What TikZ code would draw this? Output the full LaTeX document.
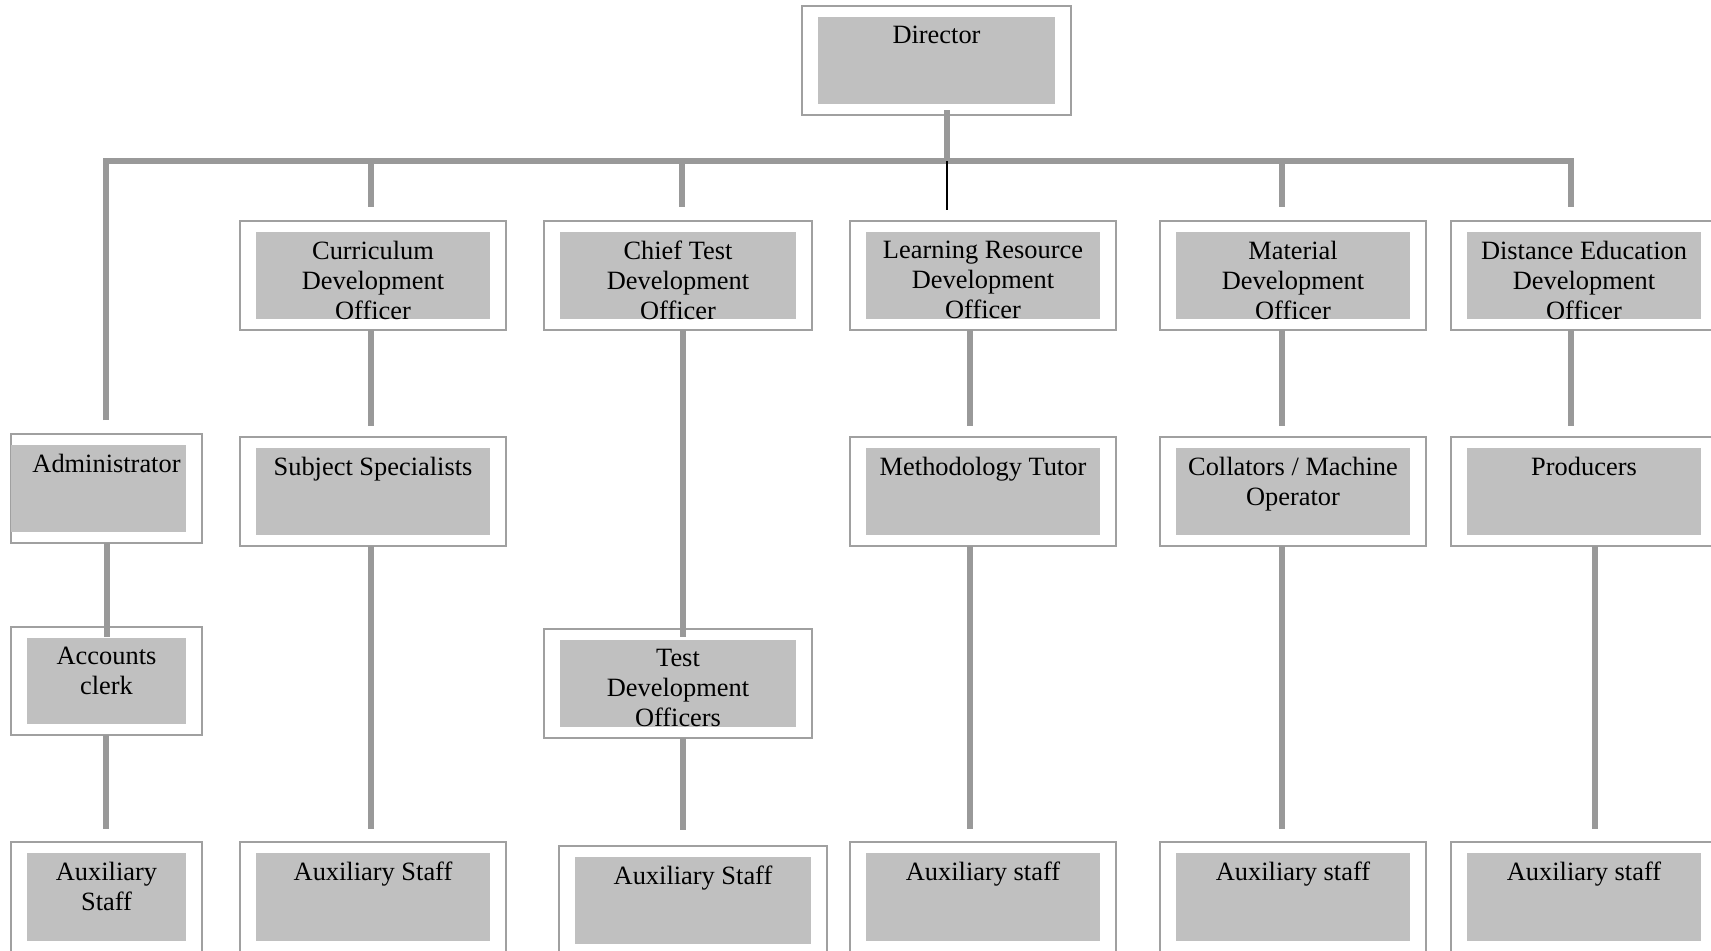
\documentclass[tikz,border=0pt]{standalone}
\usepackage{fontspec}
\setmainfont{Liberation Serif}
\usetikzlibrary{calc}
\definecolor{lineg}{HTML}{999999}
\definecolor{boxg}{HTML}{A0A0A0}
\definecolor{fillg}{HTML}{C0C0C0}
\tikzset{
  outerbox/.style={draw=boxg, line width=0.7pt, fill=white, inner sep=0pt, outer sep=0pt, rectangle},
  innerfill/.style={fill=fillg},
  txt/.style={inner sep=0pt, outer sep=0pt, align=center, font=\fontsize{13.2pt}{15pt}\selectfont},
  conn/.style={draw=lineg, line width=3pt},
  thinconn/.style={draw=black, line width=0.8pt}
}
\newcommand\orgbox[7][16]{%
  \node[outerbox, minimum width={(#5-#3)*0.5pt}, minimum height={(#6-#4)*0.5pt}] (#2) at ({(#3+#5)/2},{(#4+#6)/2}) {};
  \fill[innerfill] ({#3+#1},{#4+11}) rectangle ({#5-16},{#6-11});
  \node[txt, anchor=north] (#2-t) at ({(#3+#5)/2},{#4+20}) {#7};
}
\begin{document}
\begin{tikzpicture}[x=0.5pt,y=-0.5pt]
\useasboundingbox (0,0) rectangle (1711,950);
% boxes
\orgbox{dir}{802}{6}{1071}{115}{Director}
\orgbox{cur}{240}{221}{506}{330}{Curriculum\\Development\\Officer}
\orgbox{chief}{544}{221}{812}{330}{Chief Test\\Development\\Officer}
\orgbox{lrd}{850}{221}{1116}{330}{Learning Resource\\Development\\Officer}
\orgbox{mat}{1160}{221}{1426}{330}{Material\\Development\\Officer}
\orgbox{ded}{1451}{221}{1717}{330}{Distance Education\\Development\\Officer}
\orgbox[0]{admin}{11}{434}{202}{543}{Administrator}
\orgbox{subj}{240}{437}{506}{546}{Subject Specialists}
\orgbox{meth}{850}{437}{1116}{546}{Methodology Tutor}
\orgbox{coll}{1160}{437}{1426}{546}{Collators / Machine\\Operator}
\orgbox{prod}{1451}{437}{1717}{546}{Producers}
\orgbox{acc}{11}{627}{202}{735}{Accounts\\clerk}
\orgbox{tdo}{544}{629}{812}{738}{Test\\Development\\Officers}
\orgbox{aux1}{11}{842}{202}{952}{Auxiliary\\Staff}
\orgbox{aux2}{240}{842}{506}{952}{Auxiliary Staff}
\orgbox{aux3}{559}{846}{827}{955}{Auxiliary Staff}
\orgbox{aux4}{850}{842}{1116}{952}{Auxiliary staff}
\orgbox{aux5}{1160}{842}{1426}{952}{Auxiliary staff}
\orgbox{aux6}{1451}{842}{1717}{952}{Auxiliary staff}
% bus
\coordinate (busL) at ($(admin.north)+(-0.5,-273)$);
\coordinate (busR) at ($(ded.north)+(-13,-60)$);
\draw[conn] ($(admin.north)+(-0.5,-14)$) -- (busL) -- (busR) -- ($(ded.north)+(-13,-14)$);
\draw[conn] ($(dir.south)+(10.5,-5)$) -- ($(dir.south)+(10.5,46)$);
\draw[conn] ($(cur.north)+(-2,-60)$) -- ($(cur.north)+(-2,-14)$);
\draw[conn] ($(chief.north)+(4,-60)$) -- ($(chief.north)+(4,-14)$);
\draw[conn] ($(mat.north)+(-11,-60)$) -- ($(mat.north)+(-11,-14)$);
\draw[thinconn] ($(dir.south)+(10.5,46)$) -- ($(lrd.north)+(-36,-11)$);
% columns
\draw[conn] ($(admin.south)+(0.5,0)$) -- ($(acc.north)+(0.5,10)$);
\draw[conn] ($(acc.south)+(-0.5,0)$) -- ($(aux1.north)+(-0.5,-13)$);
\draw[conn] ($(cur.south)+(-2,0)$) -- ($(subj.north)+(-2,-11)$);
\draw[conn] ($(subj.south)+(-2,0)$) -- ($(aux2.north)+(-2,-13)$);
\draw[conn] ($(chief.south)+(5,0)$) -- ($(tdo.north)+(5,8)$);
\draw[conn] ($(tdo.south)+(5,0)$) -- ($(aux3.north)+(-10,-16)$);
\draw[conn] ($(lrd.south)+(-13,0)$) -- ($(meth.north)+(-13,-11)$);
\draw[conn] ($(meth.south)+(-13,0)$) -- ($(aux4.north)+(-13,-13)$);
\draw[conn] ($(mat.south)+(-11,0)$) -- ($(coll.north)+(-11,-11)$);
\draw[conn] ($(coll.south)+(-11,0)$) -- ($(aux5.north)+(-11,-13)$);
\draw[conn] ($(ded.south)+(-13,0)$) -- ($(prod.north)+(-13,-11)$);
\draw[conn] ($(prod.south)+(11,0)$) -- ($(aux6.north)+(11,-13)$);
\end{tikzpicture}
\end{document}
